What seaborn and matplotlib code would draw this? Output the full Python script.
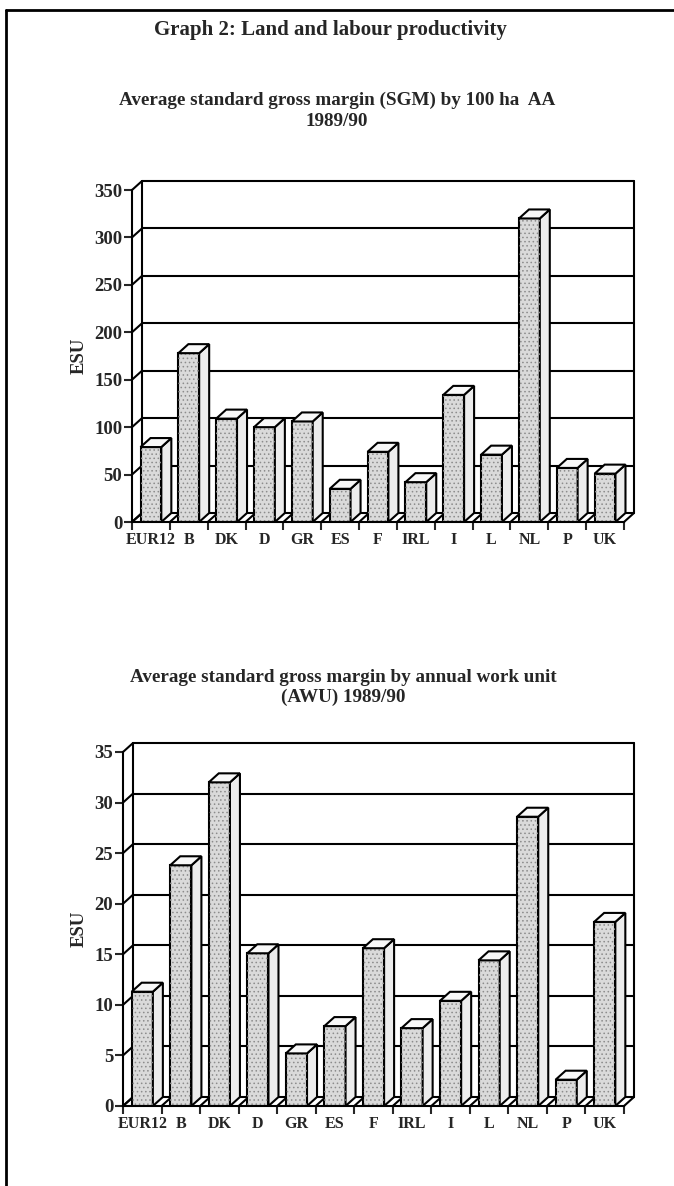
import numpy as np
import matplotlib
matplotlib.use("Agg")
import matplotlib.pyplot as plt
from matplotlib.patches import Polygon, Rectangle
from matplotlib.lines import Line2D
import seaborn as sns

# ---- data ----
countries = ["EUR12", "B", "DK", "D", "GR", "ES", "F", "IRL", "I", "L", "NL", "P", "UK"]
sgm_per_100ha = [79, 178, 109, 100, 106, 35, 74, 42, 134, 71, 320, 57, 51]
sgm_per_awu = [11.3, 23.8, 32.0, 15.1, 5.2, 7.9, 15.6, 7.7, 10.4, 14.4, 28.6, 2.6, 18.2]
yticks_land = [0, 50, 100, 150, 200, 250, 300, 350]
yticks_labour = [0, 5, 10, 15, 20, 25, 30, 35]

W, H = 674, 1186
DX, DY = 10, 9          # depth of the fake 3D effect, pixels
LW = 1.5
FRONT, SIDE, TOP = "#dadada", "#ececec", "#f8f8f8"

sns.set_style("white")
plt.rcParams["font.family"] = ["Liberation Serif", "DejaVu Serif"]
plt.rcParams["font.weight"] = "bold"
plt.rcParams["hatch.linewidth"] = 0.6

fig = plt.figure(figsize=(W / 100, H / 100), dpi=100)


def chart_3d(rect, values, yticks):
    ax = fig.add_axes(rect)
    sns.barplot(x=countries, y=values, ax=ax, color=FRONT, saturation=1,
                width=0.55, edgecolor="black", linewidth=LW)
    n = len(countries)
    ymax = yticks[-1]
    x0, x1 = -0.5, n - 0.5
    ax.set_xlim(x0, x1)
    ax.set_ylim(0, ymax)

    # pixel depth -> data units
    ddx = DX * (x1 - x0) / (rect[2] * W)
    ddy = DY * ymax / (rect[3] * H)

    # back wall, left wall and floor
    for v in yticks:
        ax.plot([x0 + ddx, x1 + ddx], [v + ddy, v + ddy], color="black",
                lw=LW, clip_on=False, zorder=0.5)
        ax.plot([x0, x0 + ddx], [v, v + ddy], color="black", lw=LW,
                clip_on=False, zorder=0.5)
    for xe in [x0 + ddx, x1 + ddx]:
        ax.plot([xe, xe], [ddy, ymax + ddy], color="black", lw=LW,
                clip_on=False, zorder=0.5)
    for b in np.arange(x0, x1 + 0.01, 1.0):
        ax.plot([b, b + ddx], [0, ddy], color="black", lw=LW,
                clip_on=False, zorder=0.6)

    # extrude every bar seaborn drew
    for p in ax.patches[:n]:
        bx, bw, bh = p.get_x(), p.get_width(), p.get_height()
        p.set_zorder(2)
        ax.add_patch(Rectangle((bx, 0), bw, bh, fill=False, hatch="....",
                               edgecolor="#8c8c8c", lw=0, zorder=2.1))
        side = [(bx + bw, 0), (bx + bw + ddx, ddy),
                (bx + bw + ddx, bh + ddy), (bx + bw, bh)]
        top = [(bx, bh), (bx + bw, bh), (bx + bw + ddx, bh + ddy),
               (bx + ddx, bh + ddy)]
        ax.add_patch(Polygon(side, closed=True, facecolor=SIDE,
                             edgecolor="black", lw=LW, zorder=2, clip_on=False))
        ax.add_patch(Polygon(top, closed=True, facecolor=TOP,
                             edgecolor="black", lw=LW, zorder=2.2, clip_on=False))

    ax.set_yticks(yticks)
    ax.set_xticks(range(n))
    ax.set_xticklabels(countries, fontsize=11.5, fontweight="bold")
    ax.set_xticks(np.arange(x0, x1 + 0.01, 1.0), minor=True)
    ax.tick_params(axis="y", labelsize=13.5, direction="out", length=6,
                   width=LW, pad=1, left=True)
    ax.tick_params(axis="x", which="major", length=0, pad=7)
    ax.tick_params(axis="x", which="minor", direction="out", length=6,
                   width=LW, bottom=True)
    for lab in ax.get_yticklabels():
        lab.set_fontweight("bold")
    for s in ["top", "right"]:
        ax.spines[s].set_visible(False)
    for s in ["left", "bottom"]:
        ax.spines[s].set_linewidth(LW)
        ax.spines[s].set_color("black")
    ax.set_xlabel("")
    ax.set_ylabel("ESU", fontsize=13.5, fontweight="bold", labelpad=5)
    ax.set_facecolor("none")
    return ax


ax_land = chart_3d([132 / W, 1 - 522 / H, 492 / W, 332 / H],
                   sgm_per_100ha, yticks_land)
ax_labour = chart_3d([123 / W, 1 - 1106 / H, 501 / W, 354 / H],
                     sgm_per_awu, yticks_labour)

# page frame (top and left rules of the scanned box)
fig.add_artist(Line2D([6 / W, 1], [1 - 10 / H, 1 - 10 / H], color="black",
                      lw=2, transform=fig.transFigure))
fig.add_artist(Line2D([6 / W, 6 / W], [0, 1 - 10 / H], color="black",
                      lw=2, transform=fig.transFigure))

fig.text(0.49, 1 - 30 / H, "Graph 2: Land and labour productivity",
         ha="center", va="center", fontsize=15, fontweight="bold")
fig.text(0.5, 1 - 100 / H, "Average standard gross margin (SGM) by 100 ha  AA",
         ha="center", va="center", fontsize=13.8, fontweight="bold")
fig.text(0.5, 1 - 121 / H, "1989/90",
         ha="center", va="center", fontsize=13.8, fontweight="bold")
fig.text(0.51, 1 - 677 / H, "Average standard gross margin by annual work unit",
         ha="center", va="center", fontsize=13.8, fontweight="bold")
fig.text(0.51, 1 - 697 / H, "(AWU) 1989/90",
         ha="center", va="center", fontsize=13.8, fontweight="bold")

fig.savefig("out.png", dpi=100, facecolor="white")
